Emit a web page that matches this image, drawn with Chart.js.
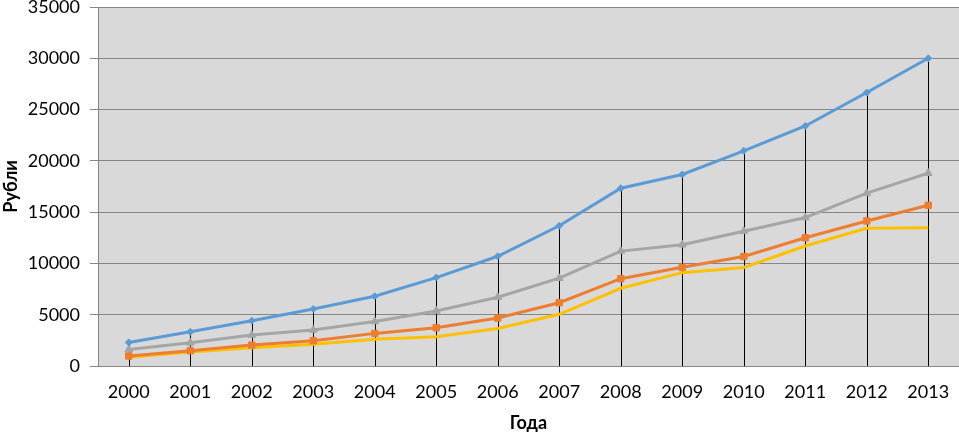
<!DOCTYPE html>
<html>
<head>
<meta charset="utf-8">
<script src="https://cdn.jsdelivr.net/npm/chart.js@4/dist/chart.umd.min.js"></script>
<style>
html,body{margin:0;padding:0;background:#fff;}
#wrap{width:959px;height:434px;}
</style>
</head>
<body>
<div id="wrap"><canvas id="c" width="959" height="434"></canvas></div>
<script>
const years = ['2000','2001','2002','2003','2004','2005','2006','2007','2008','2009','2010','2011','2012','2013'];
const seriesBlue   = [2300, 3330, 4420, 5560, 6800, 8620, 10700, 13670, 17330, 18670, 20980, 23400, 26660, 30000];
const seriesGrey   = [1600, 2260, 3020, 3510, 4330, 5370, 6710, 8560, 11200, 11820, 13140, 14470, 16850, 18800];
const seriesOrange = [ 980, 1490, 2040, 2460, 3180, 3730, 4680, 6170, 8510, 9620, 10670, 12500, 14140, 15670];
const seriesYellow = [ 850, 1360, 1780, 2110, 2600, 2860, 3660, 5040, 7580, 9100, 9600, 11700, 13430, 13490];
const yTitle = 'Рубли';
const xTitle = 'Года';

const FONT = 'Lato, "Open Sans", sans-serif';

const bgPlugin = {
  id: 'bg',
  beforeDraw(chart) {
    const {ctx, chartArea: a} = chart;
    ctx.save();
    ctx.fillStyle = '#d9d9d9';
    ctx.fillRect(a.left, a.top, a.right - a.left, a.bottom - a.top);
    ctx.restore();
  }
};
const dropLines = {
  id: 'dropLines',
  beforeDatasetsDraw(chart) {
    const {ctx} = chart;
    const meta = chart.getDatasetMeta(0);
    const y0 = chart.scales.y.getPixelForValue(0);
    ctx.save();
    ctx.strokeStyle = '#000';
    ctx.lineWidth = 1;
    meta.data.forEach(p => {
      const x = Math.round(p.x) + 0.5;
      ctx.beginPath();
      ctx.moveTo(x, p.y);
      ctx.lineTo(x, y0);
      ctx.stroke();
    });
    ctx.restore();
  }
};

new Chart(document.getElementById('c'), {
  type: 'line',
  data: {
    labels: years,
    datasets: [
      {data: seriesBlue, borderColor: '#5b9bd5', backgroundColor: '#5b9bd5', borderWidth: 3, pointStyle: 'rectRot', pointRadius: 3.5, pointBorderWidth: 1},
      {data: seriesGrey, borderColor: '#a5a5a5', backgroundColor: '#a5a5a5', borderWidth: 3, pointStyle: 'triangle', pointRadius: 4.5, pointBorderWidth: 1},
      {data: seriesOrange, borderColor: '#ed7d31', backgroundColor: '#ed7d31', borderWidth: 3, pointStyle: 'rect', pointRadius: 4.5, pointBorderWidth: 1},
      {data: seriesYellow, borderColor: '#ffc000', backgroundColor: '#ffc000', borderWidth: 3, pointRadius: 0}
    ]
  },
  options: {
    responsive: false,
    animation: false,
    layout: {autoPadding: false, padding: {top: 7, right: 0, bottom: 0, left: 0}},
    plugins: {legend: {display: false}, tooltip: {enabled: false}},
    elements: {line: {tension: 0}},
    scales: {
      x: {
        offset: true,
        grid: {display: false, drawTicks: false},
        border: {display: false},
        ticks: {color: '#000', font: {family: FONT, size: 18}, padding: 15, maxRotation: 0},
        title: {display: true, text: xTitle, color: '#000', font: {family: FONT, size: 18, weight: 'bold'}, padding: {top: 0, bottom: 0}},
        afterFit(s) { s.height = 68; s.paddingLeft = 0; s.paddingRight = 0; }
      },
      y: {
        min: 0, max: 35000,
        ticks: {stepSize: 5000, color: '#000', font: {family: FONT, size: 18}, padding: 10,
                callback: v => String(v)},
        grid: {color: '#868686', lineWidth: 1, tickLength: 8, drawTicks: true},
        border: {color: '#868686', width: 1},
        title: {display: true, text: yTitle, color: '#000', font: {family: FONT, size: 18, weight: 'bold'}, padding: {top: 0, bottom: 0}},
        afterFit(s) { s.width = 98; s.paddingTop = 0; s.paddingBottom = 0; }
      }
    }
  },
  plugins: [bgPlugin, dropLines]
});
</script>
</body>
</html>
